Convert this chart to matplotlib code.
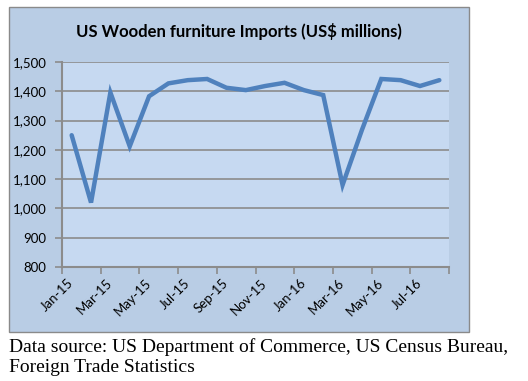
import matplotlib
matplotlib.use('Agg')
import matplotlib.pyplot as plt
from matplotlib.patches import Rectangle

# Monthly US wooden furniture imports, Jan-15 .. Aug-16 (US$ millions)
months = ['Jan-15', 'Feb-15', 'Mar-15', 'Apr-15', 'May-15', 'Jun-15', 'Jul-15',
          'Aug-15', 'Sep-15', 'Oct-15', 'Nov-15', 'Dec-15', 'Jan-16', 'Feb-16',
          'Mar-16', 'Apr-16', 'May-16', 'Jun-16', 'Jul-16', 'Aug-16']
imports = [1250, 1020, 1396, 1212, 1383, 1427, 1438, 1442, 1412, 1404,
           1418, 1429, 1404, 1387, 1080, 1268, 1442, 1438, 1418, 1438]
y_ticks = [800, 900, 1000, 1100, 1200, 1300, 1400, 1500]

W, H = 528, 381
fig = plt.figure(figsize=(W / 100, H / 100), dpi=100)
fig.patch.set_facecolor('white')

# outer chart frame
fig.patches.append(Rectangle((9 / W, 1 - 332 / H), 460 / W, 325 / H,
                             transform=fig.transFigure, facecolor='#B9CDE5',
                             edgecolor='#8a8a8a', linewidth=1, zorder=-1))

ax = fig.add_axes([62 / W, 1 - 267 / H, 387 / W, 205 / H])
ax.set_facecolor('#C6D9F1')

x = list(range(len(months)))
ax.plot(x, imports, color='#4F81BD', linewidth=3.2, solid_capstyle='round',
        solid_joinstyle='miter', zorder=3)

ax.set_xlim(-0.5, len(months) - 0.5)
ax.set_ylim(800, 1500)
ax.set_yticks(y_ticks)
ax.set_yticklabels([f'{v:,}' for v in y_ticks], fontfamily='Lato', fontsize=9.5)
ax.grid(axis='y', color='#8c8c8c', linewidth=1.2)
ax.set_axisbelow(True)

ax.set_xticks(x[::2])
ax.set_xticklabels(months[::2], rotation=45, ha='right', va='center',
                   rotation_mode='anchor', fontfamily='Lato', fontsize=9.5)
ax.set_xticks([i - 0.5 for i in range(0, len(months) + 1, 2)], minor=True)
ax.tick_params(axis='x', which='major', length=0, pad=10)
ax.tick_params(axis='x', which='minor', length=5, color='#8c8c8c', width=1.2)
ax.tick_params(axis='y', length=5, color='#8c8c8c', width=1.2, pad=6)

for side in ['top', 'right']:
    ax.spines[side].set_visible(False)
for side in ['left', 'bottom']:
    ax.spines[side].set_color('#8c8c8c')
    ax.spines[side].set_linewidth(1.5)

fig.text(239 / W, 1 - 32 / H, 'US Wooden furniture Imports (US$ millions)',
         ha='center', va='center', fontfamily='Lato', fontweight='bold',
         fontsize=12)

fig.text(9 / W, 1 - 347 / H,
         'Data source: US Department of Commerce, US Census Bureau,',
         ha='left', va='center', fontfamily='Liberation Serif', fontsize=14)
fig.text(9 / W, 1 - 368 / H, 'Foreign Trade Statistics',
         ha='left', va='center', fontfamily='Liberation Serif', fontsize=14)

fig.savefig('out.png', dpi=100)
